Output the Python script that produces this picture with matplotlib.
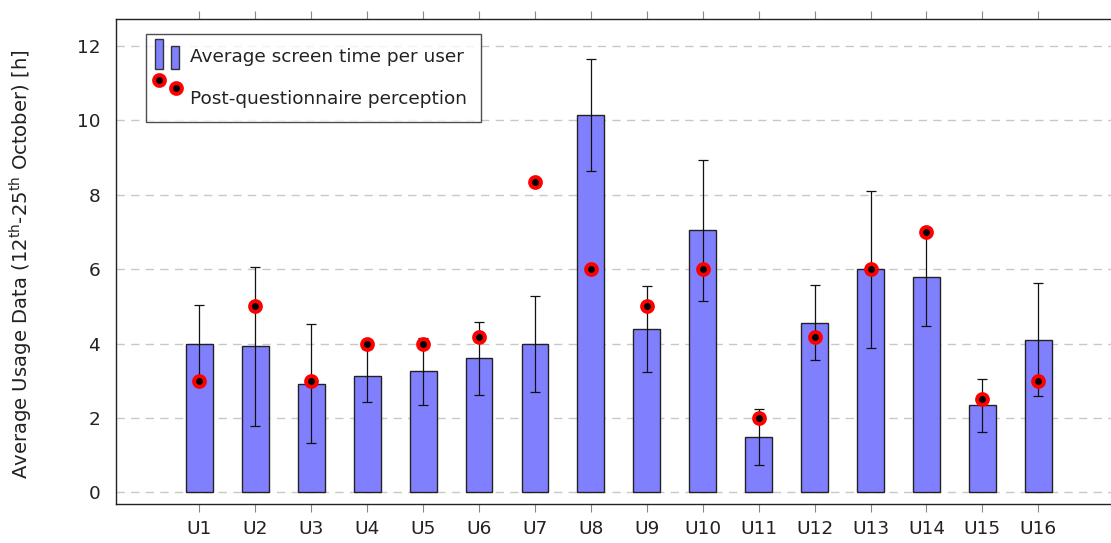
import numpy as np
import matplotlib
matplotlib.use("Agg")
import matplotlib.pyplot as plt
from matplotlib.patches import Rectangle
from matplotlib.lines import Line2D
from matplotlib.legend_handler import HandlerBase

users = [f"U{i}" for i in range(1, 17)]
screen_time = [4.00, 3.92, 2.92, 3.14, 3.25, 3.60, 3.98, 10.14,
               4.39, 7.04, 1.49, 4.56, 5.99, 5.78, 2.34, 4.10]
screen_std = [1.03, 2.13, 1.60, 0.70, 0.90, 0.98, 1.29, 1.50,
              1.15, 1.90, 0.75, 1.00, 2.11, 1.32, 0.71, 1.52]
perception = [3.0, 5.0, 3.0, 4.0, 4.0, 4.17, 8.33, 6.0,
              5.0, 6.0, 2.0, 4.17, 6.0, 7.0, 2.5, 3.0]

BAR_COLOR = "#8080ff"
TXT = "#222222"
plt.rcParams["font.family"] = ["DejaVu Sans"]
plt.rcParams["font.size"] = 13.3

DOT = dict(marker="o", ms=7.8, mfc="black", mec="red", mew=2.8, ls="")


# pgfplots-style legend images: two bars / two offset markers (units: points)
class TwoBarsHandler(HandlerBase):
    def create_artists(self, legend, orig, xd, yd, w, h, fontsize, trans):
        r1 = Rectangle((xd - 3.6, yd - 4.7), 5.8, 21.6,
                       facecolor=BAR_COLOR, edgecolor="#333333", lw=1.0, transform=trans)
        r2 = Rectangle((xd + 7.9, yd - 4.7), 5.8, 16.6,
                       facecolor=BAR_COLOR, edgecolor="#333333", lw=1.0, transform=trans)
        return [r1, r2]


class TwoDotsHandler(HandlerBase):
    def create_artists(self, legend, orig, xd, yd, w, h, fontsize, trans):
        pts = [(xd - 0.7, yd + 16.9), (xd + 11.5, yd + 11.2)]
        return [Line2D([px], [py], transform=trans, **DOT) for px, py in pts]


fig = plt.figure(figsize=(11.11, 5.43), dpi=100)
ax = fig.add_axes([0.104, 0.0727, 0.896, 0.8923])

x = np.arange(1, len(users) + 1)
ax.bar(x, screen_time, width=0.48, color=BAR_COLOR, edgecolor="#222222",
       linewidth=1.0, zorder=2)
ax.errorbar(x, screen_time, yerr=screen_std, fmt="none", ecolor="#111111",
            elinewidth=0.9, capsize=3.85, capthick=0.9, zorder=3)
ax.plot(x, perception, zorder=4, **DOT)

ax.set_xlim(-0.5, 17.3)
ax.set_ylim(-0.3, 12.72)
ax.set_xticks(x)
ax.set_xticklabels(users)
ax.set_yticks(np.arange(0, 13, 2))

ax.set_axisbelow(True)
ax.yaxis.grid(True, color="#c8c8c8", lw=1.0, linestyle=(0, (6, 4.5)), zorder=0)

ax.tick_params(axis="x", which="both", top=True, bottom=True, direction="out",
               length=6, width=0.8, color="#888888", labelcolor=TXT, pad=6)
ax.tick_params(axis="y", length=0, pad=11, labelcolor=TXT)
ax.spines["right"].set_visible(False)
for s in ("left", "top", "bottom"):
    ax.spines[s].set_color("#222222")
    ax.spines[s].set_linewidth(1.0)

ax.set_ylabel(r"Average Usage Data (12$^{\mathrm{th}}$-25$^{\mathrm{th}}$ October) [h]",
              color=TXT, fontsize=14.1)
ax.yaxis.set_label_coords(-0.081, 0.494)

h_bar = Rectangle((0, 0), 1, 1)
h_dot = Line2D([], [])
leg = ax.legend([h_bar, h_dot],
                ["Average screen time per user", "Post-questionnaire perception"],
                handler_map={h_bar: TwoBarsHandler(), h_dot: TwoDotsHandler()},
                loc="upper left", bbox_to_anchor=(0.0306, 0.969),
                frameon=True, fancybox=False, edgecolor="#222222",
                handlelength=1.2, handletextpad=0.42, labelspacing=1.28,
                borderpad=0.76, borderaxespad=0)
leg.get_frame().set_linewidth(1.0)
for t in leg.get_texts():
    t.set_color(TXT)

fig.savefig("out.png", dpi=100)
